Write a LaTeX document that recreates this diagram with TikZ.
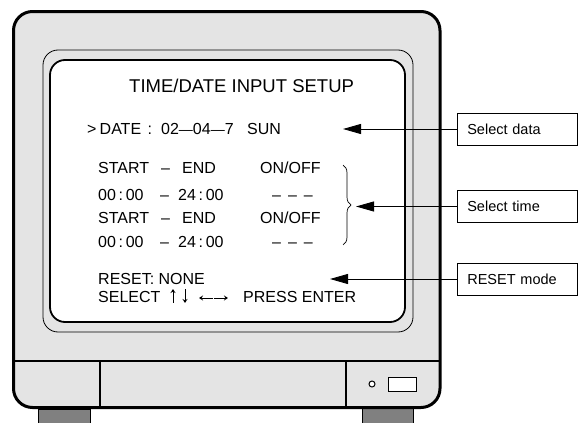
\documentclass[tikz,border=0pt]{standalone}
\usepackage{fontspec}
\setmainfont{Liberation Sans}
\usetikzlibrary{arrows.meta,decorations.pathreplacing}
\definecolor{bodygray}{RGB}{228,228,228}
\definecolor{footgray}{RGB}{128,128,128}
\tikzset{
	scr/.style={anchor=base west, inner sep=0pt, font=\fontsize{16}{16}\selectfont},
	labelbox/.style={draw, line width=0.6pt, anchor=west, minimum height=32pt, text width=100pt, inner xsep=10pt, align=left, font=\fontsize{14.5}{15}\selectfont},
	pointer/.style={line width=0.9pt, -{Triangle[length=18pt, width=10pt]}},
	keyarrow/.style={line width=0.7pt, -{Stealth[open, length=4pt, width=5pt]}}
}
\newcommand{\bigdash}{{\fontsize{14}{14}\selectfont —}}
\begin{document}
	\begin{tikzpicture}[x=1pt, y=-1pt]
		\useasboundingbox (0,0) rectangle (579,423);

		% feet
		\draw[line width=0.8pt, fill=footgray] (38,409) rectangle (90,424);
		\draw[line width=0.8pt, fill=footgray] (362,407) rectangle (413,424);

		% monitor body, bezel and screen
		\draw[line width=3pt, fill=bodygray, rounded corners=19pt] (13.5,11.5) rectangle (440,407.5);
		\draw[line width=0.8pt, rounded corners=15pt] (43,50) rectangle (413,332);
		\draw[line width=1.8pt, fill=white, rounded corners=15pt] (50,60) rectangle (405,322);

		% front panel
		\draw[line width=1.2pt] (13.5,361) -- (440,361);
		\draw[line width=1.2pt] (100,361) -- (100,407);
		\draw[line width=1.2pt] (346,361) -- (346,407);
		\draw[line width=1pt, fill=white] (372,384) circle (3pt);
		\draw[line width=1pt, fill=white] (388,377) rectangle (416,391);

		% screen text
		\node[scr, font=\fontsize{18.5}{18.5}\selectfont] (title) at (129,92.5) {TIME/DATE INPUT SETUP};

		\node[scr] (cursor) at (87,134) {>};
		\node[scr] (date) at (99.5,134) {DATE};
		\node[scr] (colon) at (147.5,134) {:};
		\node[scr] (dateval) at (161,134) {02\bigdash04\bigdash7};
		\node[scr] (day) at (247,134) {SUN};

		\node[scr] (startA) at (98,173.5) {START};
		\node[scr] (dashA) at (161,173.5) {–};
		\node[scr] (endA) at (182,173.5) {END};
		\node[scr] (onoffA) at (260,173.5) {ON/OFF};
		\node[scr] (fromA) at (98,200) {00\,:\,00};
		\node[scr] (toA) at (160,200) {–};
		\node[scr] (untilA) at (178,200) {24\,:\,00};
		\node[scr] (flagA) at (272,200) {–\hspace{7pt}–\hspace{7pt}–};

		\node[scr] (startB) at (98,223) {START};
		\node[scr] (dashB) at (161,223) {–};
		\node[scr] (endB) at (182,223) {END};
		\node[scr] (onoffB) at (260,223) {ON/OFF};
		\node[scr] (fromB) at (98,247) {00\,:\,00};
		\node[scr] (toB) at (160,247) {–};
		\node[scr] (untilB) at (178,247) {24\,:\,00};
		\node[scr] (flagB) at (272,247) {–\hspace{7pt}–\hspace{7pt}–};

		\node[scr] (reset) at (98,284) {RESET: NONE};
		\node[scr] (select) at (98,302) {SELECT};
		\node[scr] (enter) at (243,302) {PRESS ENTER};

		% key arrows
		\draw[keyarrow] (173,302.5) -- (173,289);
		\draw[keyarrow] (185,289) -- (185,303);
		\draw[keyarrow] (213,298) -- (199,298);
		\draw[keyarrow] (214,298) -- (228,298);

		% brace over the time lines
		\draw[line width=0.7pt, decorate, decoration={brace, amplitude=8pt}] (343,165) -- (343,245);

		% callouts
		\node[labelbox] (seldata) at (457,129) {Select data};
		\node[labelbox] (seltime) at (457,206.5) {Select time};
		\node[labelbox] (resetmode) at (457,279) {RESET mode};

		\coordinate (datetip) at (343,129);
		\coordinate (timetip) at (356,206.5);
		\coordinate (resettip) at (330,279);

		\draw[pointer] (seldata.west) -- (datetip);
		\draw[pointer] (seltime.west) -- (timetip);
		\draw[pointer] (resetmode.west) -- (resettip);
	\end{tikzpicture}
\end{document}
